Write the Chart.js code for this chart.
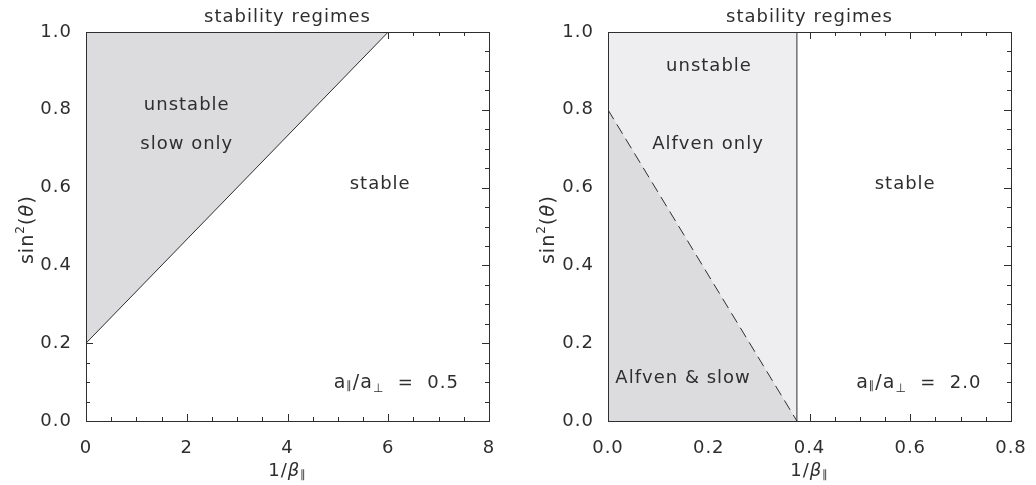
<!DOCTYPE html>
<html>
  <head>
    <title>Stability regimes</title>
    <script src="https://cdn.jsdelivr.net/npm/chart.js"></script>
    <style>
      body {
        background: #fff;
        margin: 0;
      }
      .panel {
        height: 485px;
        position: absolute;
        top: 0;
        width: 518px;
      }
      #left { left: 0; }
      #right { left: 518px; }
    </style>
  </head>
  <body>
    <div class="panel" id="left"><canvas id="chartLeft"></canvas></div>
    <div class="panel" id="right"><canvas id="chartRight"></canvas></div>

    <script>
      // Left panel, a_par / a_perp = 0.5
      const leftEdgeX = [0, 6];
      const leftEdgeY = [0.2, 1.0];
      const leftLabels = ['unstable', 'slow only', 'stable'];
      const leftLabelX = [2.0, 2.0, 5.84];
      const leftLabelY = [0.815, 0.715, 0.612];
      const leftRatio = '0.5';
      const leftRatioPos = [6.16, 0.10];

      // Right panel, a_par / a_perp = 2.0
      const rightAlfvenX = [0, 0.375];
      const rightAlfvenY = [1.0, 1.0];
      const rightSlowX = [0, 0.375];
      const rightSlowY = [0.8, 0.0];
      const rightEdgeX = [0.375, 0.375];
      const rightEdgeY = [0.0, 1.0];
      const rightLabels = ['unstable', 'Alfven only', 'stable', 'Alfven & slow'];
      const rightLabelX = [0.2005, 0.1985, 0.59, 0.149];
      const rightLabelY = [0.915, 0.715, 0.612, 0.113];
      const rightRatio = '2.0';
      const rightRatioPos = [0.617, 0.10];

      const FONT = 'DejaVu Sans';
      const INK = '#2e2e2e';
      const DARK_FILL = '#dcdcde';
      const LIGHT_FILL = '#eeeef0';

      const pts = (xs, ys) => xs.map((x, i) => ({ x: x, y: ys[i] }));

      // draw a run of text pieces (size, raise, italic) centred on x
      function drawParts(ctx, parts, x, y) {
        let total = 0;
        parts.forEach(p => {
          ctx.font = (p.it ? 'italic ' : '') + (p.s || 18) + 'px "' + FONT + '"';
          p.w = ctx.measureText(p.t).width;
          total += p.w;
        });
        let cx = x - total / 2;
        parts.forEach(p => {
          ctx.font = (p.it ? 'italic ' : '') + (p.s || 18) + 'px "' + FONT + '"';
          ctx.fillText(p.t, cx, y + (p.dy || 0));
          cx += p.w;
        });
      }

      function ratioParts(value) {
        return [
          { t: 'a', s: 19 }, { t: '\u2225', s: 11, dy: 1 }, { t: '/', s: 19 },
          { t: 'a', s: 19 }, { t: '\u22A5', s: 12, dy: 4 }, { t: '  =  ' + value }
        ];
      }

      const framePlugin = {
        id: 'frame',
        beforeDraw(chart) {
          chart.ctx.letterSpacing = '1px';
        },
        beforeDatasetsDraw(chart, args, opts) {
          const { ctx, chartArea: a, scales } = chart;
          ctx.save();
          ctx.strokeStyle = INK;
          ctx.lineWidth = 1;
          ctx.beginPath();
          const sx = scales.x, sy = scales.y;
          let n = Math.round((sx.max - sx.min) / opts.minorX);
          for (let i = 1; i < n; i++) {
            const v = sx.min + i * opts.minorX;
            const len = Math.abs(v / opts.majorX - Math.round(v / opts.majorX)) < 1e-6 ? 7 : 4;
            const px = Math.round(sx.getPixelForValue(v)) + 0.5;
            ctx.moveTo(px, a.bottom); ctx.lineTo(px, a.bottom - len);
            ctx.moveTo(px, a.top); ctx.lineTo(px, a.top + len);
          }
          n = Math.round((sy.max - sy.min) / opts.minorY);
          for (let i = 1; i < n; i++) {
            const v = sy.min + i * opts.minorY;
            const len = Math.abs(v / opts.majorY - Math.round(v / opts.majorY)) < 1e-6 ? 7 : 4;
            const py = Math.round(sy.getPixelForValue(v)) + 0.5;
            ctx.moveTo(a.left, py); ctx.lineTo(a.left + len, py);
            ctx.moveTo(a.right, py); ctx.lineTo(a.right - len, py);
          }
          ctx.stroke();
          ctx.restore();
        },
        afterDatasetsDraw(chart, args, opts) {
          const { ctx, chartArea: a, scales } = chart;
          ctx.save();
          ctx.strokeStyle = INK;
          ctx.lineWidth = 1;
          ctx.strokeRect(a.left + 0.5, a.top + 0.5, a.right - a.left, a.bottom - a.top);

          ctx.fillStyle = INK;
          ctx.letterSpacing = '1px';
          ctx.textBaseline = 'alphabetic';
          ctx.textAlign = 'left';
          const midX = (a.left + a.right) / 2;

          // title
          drawParts(ctx, [{ t: 'stability regimes' }], midX, 22);

          // region labels
          opts.labels.forEach((t, i) => {
            drawParts(ctx, [{ t: t }], scales.x.getPixelForValue(opts.labelX[i]),
              scales.y.getPixelForValue(opts.labelY[i]) + 6);
          });
          drawParts(ctx, ratioParts(opts.ratio), scales.x.getPixelForValue(opts.ratioPos[0]),
            scales.y.getPixelForValue(opts.ratioPos[1]) + 6);

          // x axis title
          drawParts(ctx, [{ t: '1/' }, { t: '\u03B2', it: true }, { t: '\u2225', s: 11, dy: 2 }], midX, 476);

          // y axis title
          ctx.translate(opts.yTitleX, (a.top + a.bottom) / 2 + 3);
          ctx.rotate(-Math.PI / 2);
          drawParts(ctx, [{ t: 'sin', s: 19 }, { t: '2', s: 12, dy: -9 }, { t: '(', s: 20 }, { t: '\u03B8', it: true, s: 19 }, { t: ')', s: 20 }], 0, 6);
          ctx.restore();
        }
      };

      function makeChart(id, datasets, xOpts, frame, padRight, yWidth) {
        const tickFont = { family: FONT, size: 18 };
        return new Chart(document.getElementById(id), {
          type: 'scatter',
          data: { datasets: datasets },
          plugins: [framePlugin],
          options: {
            responsive: true,
            maintainAspectRatio: false,
            animation: false,
            events: [],
            layout: { padding: { left: 0, right: padRight, top: 32, bottom: 0 } },
            elements: { point: { radius: 0 }, line: { tension: 0 } },
            scales: {
              x: {
                type: 'linear',
                min: xOpts.min,
                max: xOpts.max,
                grid: { display: false },
                border: { display: false },
                ticks: {
                  stepSize: xOpts.step,
                  color: INK,
                  font: tickFont,
                  padding: 9,
                  maxRotation: 0,
                  callback: xOpts.format
                },
                afterFit: scale => { scale.height = 64; }
              },
              y: {
                type: 'linear',
                min: 0,
                max: 1,
                grid: { display: false },
                border: { display: false },
                ticks: {
                  stepSize: 0.2,
                  color: INK,
                  font: tickFont,
                  padding: 6,
                  callback: v => v.toFixed(1)
                },
                afterFit: scale => { scale.width = yWidth; }
              }
            },
            plugins: {
              legend: { display: false },
              tooltip: { enabled: false },
              title: { display: false },
              frame: frame
            }
          }
        });
      }

      makeChart('chartLeft', [
        {
          data: pts(leftEdgeX, leftEdgeY),
          showLine: true,
          borderColor: INK,
          borderWidth: 1,
          backgroundColor: DARK_FILL,
          fill: 'end'
        }
      ], { min: 0, max: 8, step: 2, format: v => v.toFixed(0) }, {
        minorX: 0.5, majorX: 2, minorY: 0.05, majorY: 0.2,
        labels: leftLabels, labelX: leftLabelX, labelY: leftLabelY,
        ratio: leftRatio, ratioPos: leftRatioPos, yTitleX: 27
      }, 29, 86);

      makeChart('chartRight', [
        {
          data: pts(rightEdgeX, rightEdgeY),
          showLine: true,
          borderColor: INK,
          borderWidth: 1,
          fill: false,
          order: 1
        },
        {
          data: pts(rightSlowX, rightSlowY),
          showLine: true,
          borderColor: INK,
          borderWidth: 1,
          borderDash: [11, 6],
          backgroundColor: DARK_FILL,
          fill: 'start',
          order: 2
        },
        {
          data: pts(rightAlfvenX, rightAlfvenY),
          showLine: true,
          borderWidth: 0,
          backgroundColor: LIGHT_FILL,
          fill: 'start',
          order: 3
        }
      ], { min: 0, max: 0.8, step: 0.2, format: v => v.toFixed(1) }, {
        minorX: 0.05, majorX: 0.2, minorY: 0.05, majorY: 0.2,
        labels: rightLabels, labelX: rightLabelX, labelY: rightLabelY,
        ratio: rightRatio, ratioPos: rightRatioPos, yTitleX: 30
      }, 25, 90);
    </script>
  </body>
</html>
